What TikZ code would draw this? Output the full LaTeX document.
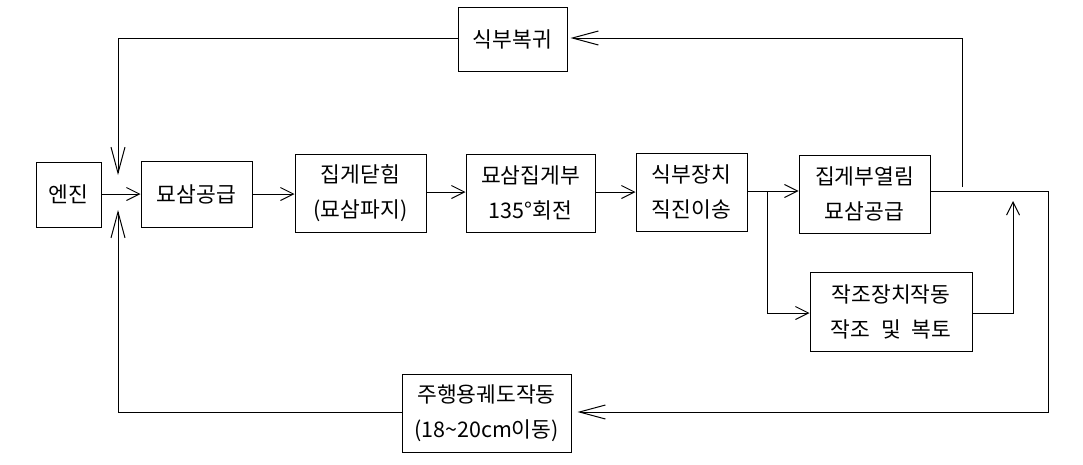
\documentclass[tikz,border=0pt]{standalone}
\usepackage{fontspec}
\setmainfont{Noto Sans CJK KR}
\usetikzlibrary{arrows.meta}

\tikzset{
  box/.style={draw, line width=1pt, align=center, inner sep=0pt,
    font=\fontsize{21.5}{35}\selectfont},
  flow/.style={line width=1pt, -{Straight Barb[length=13pt,width=13pt]}},
  back/.style={line width=1pt, -{Straight Barb[length=26pt,width=14pt]}}
}

\begin{document}
\begin{tikzpicture}[x=1pt,y=-1pt]
\useasboundingbox (0,0) rectangle (1083,464);

% Main line
\node[box, minimum width=65, minimum height=65] (engine) at (68.5,194.5) {엔진};
\node[box, minimum width=111, minimum height=66] (supply) at (196.5,194) {묘삼공급};
\node[box, minimum width=131, minimum height=78] (grip) at (360.5,193) {집게닫힘\\(묘삼파지)};
\node[box, minimum width=129, minimum height=78] (turn) at (530.5,193) {묘삼집게부\\135°회전};
\node[box, minimum width=111, minimum height=78] (plant) at (691.5,192) {식부장치\\직진이송};
\node[box, minimum width=131, minimum height=78] (open) at (864.5,194) {집게부열림\\묘삼공급};

% Branches
\node[box, minimum width=162, minimum height=79] (furrow) at (891,311.5) {작조장치작동\\작조\hspace{0.5em}및\hspace{0.5em}복토};
\node[box, minimum width=169, minimum height=78] (travel) at (486.5,413) {주행용궤도작동\\(18\textasciitilde20cm이동)};
\node[box, minimum width=109, minimum height=64] (back) at (512.5,39) {식부복귀};

% Junctions
\coordinate (jtop) at (118,38);
\coordinate (jin) at (118,175);
\coordinate (jup) at (118,210);
\coordinate (jbot) at (118,412);
\coordinate (split) at (767,191);
\coordinate (rise) at (962,187);
\coordinate (tip) at (1013,201);

\draw[flow] (engine.east |- 0,194) -- (supply.west |- 0,194);
\draw[flow] (supply.east |- 0,194) -- (grip.west |- 0,194);
\draw[flow] (grip.east |- 0,192) -- (turn.west |- 0,192);
\draw[flow] (turn.east |- 0,192) -- (plant.west |- 0,192);
\draw[flow] (plant.east |- split) -- (open.west |- split);
\draw[flow] (split) |- (furrow.west |- 0,313);
\draw[flow] (furrow.east |- 0,313) -| (tip);

% Feedback
\draw[back, shorten >=6pt] (open.east |- 0,191) -| (1048,412) -- (travel.east |- 0,412);
\draw[back] (travel.west |- jbot) -- (jbot) -- (jup);
\draw[back, shorten >=3pt] (rise) |- (back.east |- jtop);
\draw[back] (back.west |- jtop) -- (jtop) -- (jin);

\end{tikzpicture}
\end{document}
